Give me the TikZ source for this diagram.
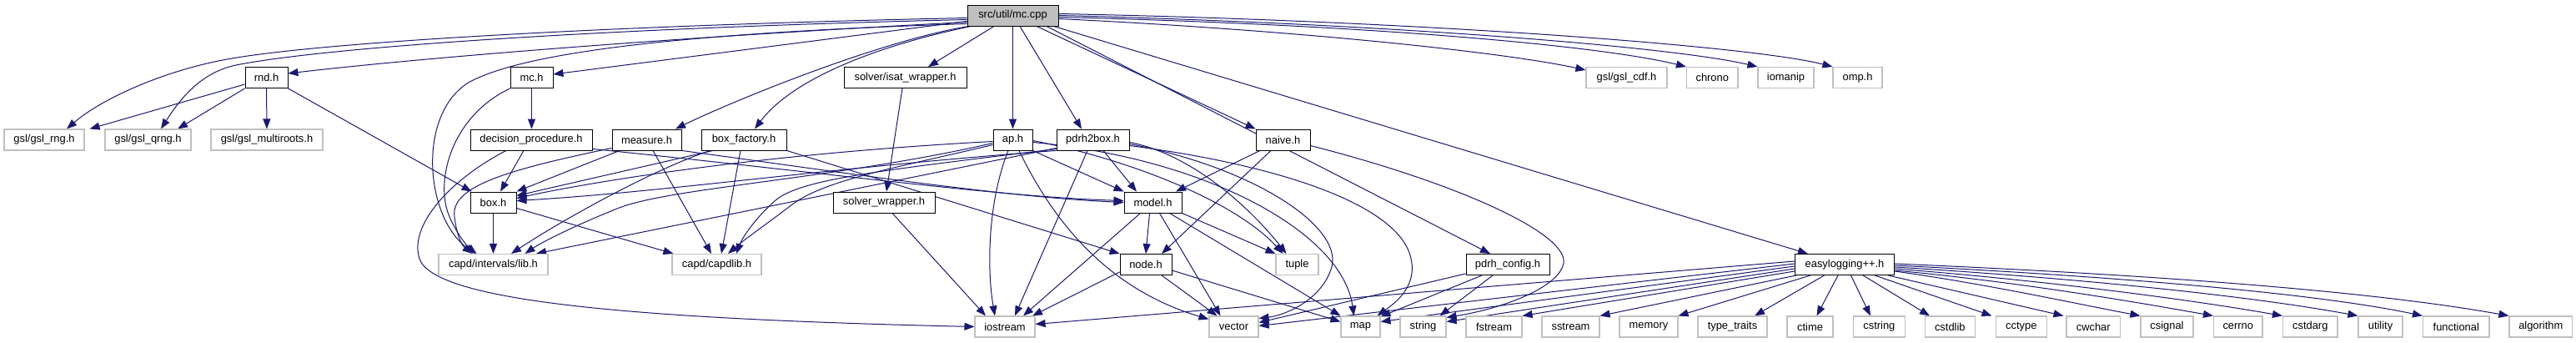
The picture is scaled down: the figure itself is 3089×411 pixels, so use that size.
\documentclass[tikz,border=0pt]{standalone}
\usepackage{fontspec}
\setmainfont{Liberation Sans}
\usetikzlibrary{arrows.meta,calc}
\pgfdeclarelayer{bg}
\pgfsetlayers{bg,main}
\definecolor{edgec}{HTML}{191970}
\definecolor{extgray}{HTML}{BFBFBF}
\definecolor{rootfill}{HTML}{BFBFBF}
\newcommand{\nodefont}{\fontsize{12.9pt}{15pt}\selectfont}
\begin{document}
\begin{tikzpicture}[x=1pt,y=-1pt,
 doc/.style={draw=black,line width=0.9pt,fill=white,minimum height=25pt,inner sep=0pt,font=\nodefont},
 ext/.style={draw=extgray,line width=1.1pt,fill=white,minimum height=25pt,inner sep=0pt,font=\nodefont},
 root/.style={doc,fill=rootfill},
 dep/.style={draw=edgec,line width=1pt,-{Triangle[length=12pt,width=9pt]}}]
\useasboundingbox (0,0) rectangle (3089,411);
% row 1
\node[root, minimum width=109pt] (mccpp) at (1214.5,18.5) {src/util/mc.cpp};
% row 2
\node[doc, minimum width=51pt] (rnd) at (319.5,93) {rnd.h};
\node[doc, minimum width=51pt] (mch) at (637.5,93) {mc.h};
\node[doc, minimum width=147pt] (isat) at (1085.5,93) {solver/isat\_wrapper.h};
\node[ext, minimum width=97pt] (cdf) at (1950.5,93) {gsl/gsl\_cdf.h};
\node[ext, minimum width=61.5pt] (chrono) at (2053.25,93) {chrono};
\node[ext, minimum width=67pt] (iomanip) at (2141.5,93) {iomanip};
\node[ext, minimum width=59pt] (omp) at (2227.5,93) {omp.h};
% row 3
\node[ext, minimum width=96pt] (gslrng) at (53,167.5) {gsl/gsl\_rng.h};
\node[ext, minimum width=103pt] (gslqrng) at (177.5,167.5) {gsl/gsl\_qrng.h};
\node[ext, minimum width=134pt] (multiroots) at (320,167.5) {gsl/gsl\_multiroots.h};
\node[doc, minimum width=146pt] (decision) at (637,167.5) {decision\_procedure.h};
\node[doc, minimum width=83pt] (measure) at (775.5,167.5) {measure.h};
\node[doc, minimum width=102pt] (boxfactory) at (892,167.5) {box\_factory.h};
\node[doc, minimum width=47pt] (aph) at (1214.5,167.5) {ap.h};
\node[doc, minimum width=87pt] (pdrh2box) at (1310.5,167.5) {pdrh2box.h};
\node[doc, minimum width=65pt] (naive) at (1538.5,167.5) {naive.h};
% row 4
\node[doc, minimum width=55pt] (boxh) at (591.5,242.5) {box.h};
\node[doc, minimum width=122pt] (solverw) at (1060,242.5) {solver\_wrapper.h};
\node[doc, minimum width=69pt] (model) at (1382.5,242.5) {model.h};
% row 5
\node[ext, minimum width=131pt] (intervals) at (591.5,317) {capd/intervals/lib.h};
\node[ext, minimum width=107pt] (capdlib) at (859.5,317) {capd/capdlib.h};
\node[doc, minimum width=62pt] (nodeh) at (1374,317) {node.h};
\node[ext, minimum width=51pt] (tuple) at (1555.5,317) {tuple};
\node[doc, minimum width=100pt] (pdrhcfg) at (1808,317) {pdrh\_config.h};
\node[doc, minimum width=119pt] (easylog) at (2212,317) {easylogging++.h};
% row 6
\node[ext, minimum width=72pt] (iostream) at (1205,391.5) {iostream};
\node[ext, minimum width=59pt] (vector) at (1479.5,391.5) {vector};
\node[ext, minimum width=47pt] (map) at (1631.5,391.5) {map};
\node[ext, minimum width=55pt] (string) at (1706.5,391.5) {string};
\node[ext, minimum width=67pt] (fstream) at (1791.5,391.5) {fstream};
\node[ext, minimum width=69pt] (sstream) at (1883.5,391.5) {sstream};
\node[ext, minimum width=70pt] (memory) at (1977,391.5) {memory};
\node[ext, minimum width=83pt] (typetraits) at (2077.5,391.5) {type\_traits};
\node[ext, minimum width=55pt] (ctime) at (2170.5,391.5) {ctime};
\node[ext, minimum width=62pt] (cstring) at (2253.4,391.5) {cstring};
\node[ext, minimum width=60.5pt] (cstdlib) at (2338.3,391.5) {cstdlib};
\node[ext, minimum width=61.5pt] (cctype) at (2423.8,391.5) {cctype};
\node[ext, minimum width=64.5pt] (cwchar) at (2510.25,391.5) {cwchar};
\node[ext, minimum width=63pt] (csignal) at (2598.5,391.5) {csignal};
\node[ext, minimum width=58.5pt] (cerrno) at (2683.75,391.5) {cerrno};
\node[ext, minimum width=65.5pt] (cstdarg) at (2770.25,391.5) {cstdarg};
\node[ext, minimum width=53pt] (utility) at (2854.5,391.5) {utility};
\node[ext, minimum width=79.5pt] (functional) at (2945.25,391.5) {functional};
\node[ext, minimum width=75.5pt] (algorithm) at (3046.75,391.5) {algorithm};

\begin{pgfonlayer}{bg}
\fill[white] (0,0) rectangle (3089,411);
% from mc.cpp
\draw[dep] ($(mccpp.west)+(0,3)$) .. controls (750,30) and (380,50) .. (267,72) .. controls (190,87) and (120,120) .. ($(gslrng.north)+(27,0)$);
\draw[dep] ($(mccpp.west)+(0,5)$) .. controls (750,33) and (400,55) .. (283,78) .. controls (240,87) and (215,120) .. ($(gslqrng.north)+(15.5,0)$);
\draw[dep] ($(mccpp.west)+(0,8)$) .. controls (800,45) and (500,70) .. ($(rnd.east)+(0,-5)$);
\draw[dep] ($(mccpp.west)+(0,10)$) .. controls (800,40) and (620,65) .. (560,100) .. controls (500,140) and (510,260) .. ($(intervals.north)+(-22,0)$);
\draw[dep] ($(mccpp.west)+(0,7)$) -- ($(mch.east)+(0,-4)$);
\draw[dep] ($(mccpp.south west)+(2,0)$) .. controls (1050,50) and (870,125) .. ($(measure.north)+(34.5,0)$);
\draw[dep] ($(mccpp.south west)+(5,0)$) .. controls (1050,55) and (950,95) .. ($(boxfactory.north)+(13,0)$);
\draw[dep] ($(mccpp.south)+(-22.5,0)$) -- ($(isat.north)+(27.5,0)$);
\draw[dep] (mccpp.south) -- (aph.north);
\draw[dep] ($(mccpp.south)+(8.5,0)$) -- ($(pdrh2box.north)+(-13.5,0)$);
\draw[dep] ($(mccpp.south)+(28.5,0)$) -- (naive.north west);
\draw[dep] ($(mccpp.south)+(40.5,0)$) -- ($(pdrhcfg.north)+(-21,0)$);
\draw[dep] ($(mccpp.south east)+(-6,0)$) -- ($(easylog.north)+(-44,0)$);
\draw[dep] ($(mccpp.east)+(0,4)$) .. controls (1550,36) and (1800,62) .. ($(cdf.north west)+(0,4)$);
\draw[dep] ($(mccpp.east)+(0,2)$) .. controls (1650,30) and (1920,55) .. (chrono.north west);
\draw[dep] (mccpp.east) .. controls (1650,28) and (2000,55) .. (iomanip.north west);
\draw[dep] ($(mccpp.east)+(0,-2)$) .. controls (1700,25) and (2100,55) .. (omp.north west);
% rnd.h
\draw[dep] ($(rnd.west)+(0,8)$) -- ($(gslrng.north east)+(6,0)$);
\draw[dep] (rnd.south west) -- ($(gslqrng.north)+(35.5,0)$);
\draw[dep] (rnd.south) -- (multiroots.north);
\draw[dep] (rnd.south east) -- ($(boxh.north west)+(2,0)$);
% mc.h
\draw[dep] (mch.south) -- ($(decision.north)+(0.5,0)$);
\draw[dep] (mch.south west) .. controls (540,140) and (520,220) .. (540,262) .. controls (548,280) and (560,295) .. ($(intervals.north)+(-20,0)$);
% decision_procedure.h
\draw[dep] ($(decision.south)+(-9,0)$) -- ($(boxh.north)+(8.5,0)$);
\draw[dep] ($(decision.south)+(-30,0)$) .. controls (540,215) and (490,270) .. (503,310) .. controls (520,360) and (750,382) .. (iostream.west);
\draw[dep] ($(decision.south east)+(0,-2)$) .. controls (1000,208) and (1200,236) .. ($(model.west)+(0,-2)$);
% measure.h
\draw[dep] ($(measure.south)+(-32.5,0)$) -- ($(boxh.east)+(0,-13)$);
\draw[dep] ($(measure.west)+(0,10)$) .. controls (600,205) and (540,225) .. (545,260) .. controls (548,285) and (555,295) .. ($(intervals.north)+(-25,0)$);
\draw[dep] ($(measure.south)+(7.5,0)$) -- ($(capdlib.north)+(-6.5,0)$);
\draw[dep] (measure.south east) .. controls (1000,205) and (1200,236) .. (model.west);
% box_factory.h
\draw[dep] ($(boxfactory.south)+(-37,0)$) -- ($(boxh.east)+(0,-8)$);
\draw[dep] ($(boxfactory.south)+(-40,0)$) .. controls (790,200) and (680,260) .. ($(intervals.north)+(21.5,0)$);
\draw[dep] ($(boxfactory.south)+(-4,0)$) -- ($(capdlib.north)+(5.5,0)$);
\draw[dep] (boxfactory.south east) -- (nodeh.north west);
% box.h
\draw[dep] (boxh.south) -- (intervals.north);
\draw[dep] ($(boxh.east)+(0,7)$) -- ($(capdlib.north west)+(2,0)$);
% solver wrappers
\draw[dep] ($(isat.south)+(-3.5,0)$) -- ($(solverw.north)+(3,0)$);
\draw[dep] ($(solverw.south)+(10,0)$) -- ($(iostream.north)+(-23,0)$);
% ap.h
\draw[dep] ($(aph.west)+(0,2)$) .. controls (900,185) and (700,220) .. ($(boxh.east)+(0,-5)$);
\draw[dep] ($(aph.west)+(0,4)$) .. controls (1000,215) and (800,225) .. (740,250) .. controls (690,270) and (650,290) .. ($(intervals.north)+(38,0)$);
\draw[dep] ($(aph.west)+(0,6)$) .. controls (1080,200) and (990,215) .. (950,245) .. controls (920,268) and (895,285) .. ($(capdlib.north)+(13.5,0)$);
\draw[dep] (aph.south east) -- (model.north west);
\draw[dep] ($(aph.south)+(-5.5,0)$) .. controls (1185,240) and (1183,320) .. ($(iostream.north)+(-12,0)$);
\draw[dep] ($(aph.south)+(7.5,0)$) .. controls (1270,280) and (1340,350) .. ($(vector.west)+(0,-9)$);
\draw[dep] ($(aph.east)+(0,1)$) .. controls (1350,190) and (1480,240) .. ($(tuple.north)+(-17,0)$);
\draw[dep] ($(aph.east)+(0,3)$) .. controls (1450,190) and (1610,280) .. ($(map.north)+(-8,0)$);
% pdrh2box.h
\draw[dep] (pdrh2box.south west) .. controls (1000,200) and (800,230) .. ($(boxh.east)+(0,-2)$);
\draw[dep] ($(pdrh2box.west)+(0,10)$) -- ($(intervals.north)+(51.5,0)$);
\draw[dep] ($(pdrh2box.west)+(0,11)$) .. controls (1050,205) and (960,215) .. (930,240) .. controls (905,262) and (890,285) .. ($(capdlib.north)+(23.5,0)$);
\draw[dep] ($(pdrh2box.south)+(12.5,0)$) -- ($(model.north)+(-19.5,0)$);
\draw[dep] ($(pdrh2box.south)+(-6.5,0)$) -- ($(iostream.north)+(12,0)$);
\draw[dep] ($(pdrh2box.east)+(0,3)$) .. controls (1430,185) and (1500,250) .. ($(tuple.north)+(-13,0)$);
\draw[dep] ($(pdrh2box.east)+(0,5)$) .. controls (1500,200) and (1610,270) .. (1597,320) .. controls (1585,360) and (1540,378) .. ($(vector.north east)+(0,3)$);
\draw[dep] ($(pdrh2box.east)+(0,7)$) .. controls (1550,200) and (1680,250) .. (1692,310) .. controls (1700,345) and (1670,365) .. ($(map.north)+(20,0)$);
% model.h
\draw[dep] ($(model.south)+(-4,0)$) -- (nodeh.north);
\draw[dep] ($(model.south)+(-15,0)$) -- ($(iostream.north)+(22,0)$);
\draw[dep] ($(model.south)+(8,0)$) -- ($(vector.north)+(-16,0)$);
\draw[dep] ($(model.south)+(20,0)$) -- (map.north west);
\draw[dep] (model.south east) -- (tuple.north west);
% node.h
\draw[dep] ($(nodeh.south west)+(0,-4)$) -- ($(iostream.north)+(33,0)$);
\draw[dep] ($(nodeh.south)+(19,0)$) -- ($(vector.north)+(-20,0)$);
\draw[dep] ($(nodeh.east)+(0,7)$) -- ($(map.west)+(0,-6)$);
% naive.h
\draw[dep] ($(naive.south)+(-27.5,0)$) -- ($(model.north)+(27.5,0)$);
\draw[dep] ($(naive.south)+(-14.5,0)$) -- ($(nodeh.north)+(19,0)$);
\draw[dep] ($(naive.east)+(0,7)$) .. controls (1750,220) and (1880,280) .. (1875,315) .. controls (1870,345) and (1800,370) .. ($(string.north east)+(0,2)$);
% pdrh_config.h
\draw[dep] ($(pdrhcfg.south west)+(0,-2)$) -- ($(vector.east)+(0,-5)$);
\draw[dep] ($(pdrhcfg.south)+(-31,0)$) -- ($(map.north east)+(0,1)$);
\draw[dep] ($(pdrhcfg.south)+(-18,0)$) -- ($(string.north)+(20,0)$);
% easylogging++.h
\draw[dep] ($(easylog.west)+(0,-4)$) -- ($(iostream.east)+(0,-3)$);
\draw[dep] ($(easylog.west)+(0,-1)$) -- ($(vector.east)+(0,-1)$);
\draw[dep] ($(easylog.west)+(0,2)$) -- ($(map.east)+(0,-6)$);
\draw[dep] ($(easylog.west)+(0,5)$) -- ($(string.east)+(0,-6)$);
\draw[dep] ($(easylog.west)+(0,8)$) -- (fstream.north east);
\draw[dep] ($(easylog.south west)+(2,0)$) -- (sstream.north east);
\draw[dep] ($(easylog.south)+(-41,0)$) -- (memory.north east);
\draw[dep] ($(easylog.south)+(-24.5,0)$) -- ($(typetraits.north)+(26.5,0)$);
\draw[dep] ($(easylog.south)+(-8,0)$) -- ($(ctime.north)+(8,0)$);
\draw[dep] ($(easylog.south)+(7.5,0)$) -- ($(cstring.north)+(-10.5,0)$);
\draw[dep] ($(easylog.south)+(22,0)$) -- ($(cstdlib.north)+(-24.3,0)$);
\draw[dep] ($(easylog.south)+(36,0)$) -- ($(cctype.north west)+(-4,0)$);
\draw[dep] ($(easylog.south)+(52,0)$) -- ($(cwchar.north west)+(-3,0)$);
\draw[dep] ($(easylog.east)+(0,8)$) .. controls (2380,340) and (2480,362) .. (csignal.north west);
\draw[dep] ($(easylog.east)+(0,7)$) .. controls (2420,338) and (2550,360) .. (cerrno.north west);
\draw[dep] ($(easylog.east)+(0,5)$) .. controls (2450,336) and (2620,358) .. (cstdarg.north west);
\draw[dep] ($(easylog.east)+(0,3)$) .. controls (2500,334) and (2700,355) .. (utility.north west);
\draw[dep] ($(easylog.east)+(0,1)$) .. controls (2550,332) and (2780,352) .. (functional.north west);
\draw[dep] ($(easylog.east)+(0,-1)$) .. controls (2600,330) and (2850,350) .. (algorithm.north west);
\end{pgfonlayer}
\end{tikzpicture}
\end{document}
